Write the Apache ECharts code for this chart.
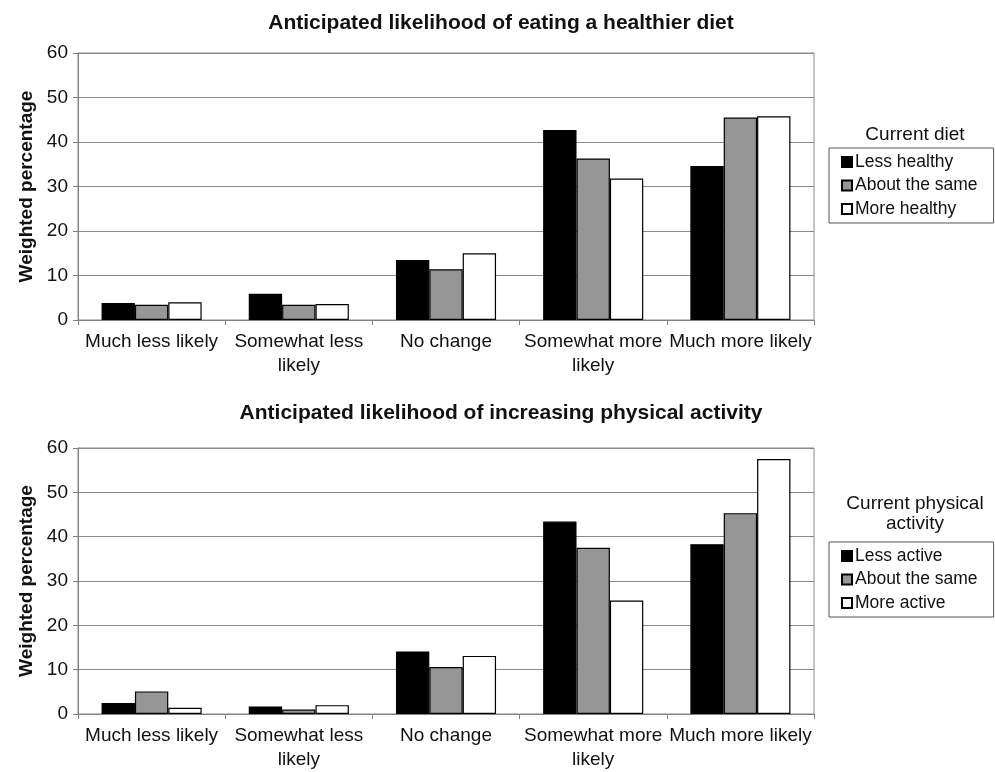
<!DOCTYPE html>
<html>
<head>
<meta charset="utf-8">
<script src="https://cdn.jsdelivr.net/npm/echarts@6/dist/echarts.min.js"></script>
<style>
  html, body { margin: 0; padding: 0; background: #fff; }
  #chart { width: 995px; height: 772px; }
</style>
</head>
<body>
<div id="chart"></div>
<script>
const categories = ['Much less likely', 'Somewhat less\nlikely', 'No change', 'Somewhat more\nlikely', 'Much more likely'];
const yTicks = [0, 10, 20, 30, 40, 50, 60];

// top panel: diet
const dietNames = ['Less healthy', 'About the same', 'More healthy'];
const dietLess = [3.8, 5.9, 13.5, 42.7, 34.6];
const dietSame = [3.4, 3.4, 11.4, 36.3, 45.5];
const dietMore = [4.0, 3.6, 15.0, 31.8, 45.8];

// bottom panel: physical activity
const actNames = ['Less active', 'About the same', 'More active'];
const actLess = [2.5, 1.7, 14.1, 43.4, 38.3];
const actSame = [5.1, 1.0, 10.6, 37.5, 45.3];
const actMore = [1.4, 2.0, 13.1, 25.6, 57.5];

const fills = ['#000000', '#969696', '#ffffff'];
const font = 'Liberation Sans, Arial, sans-serif';

function makeX(gridIndex) {
    return {
        type: 'category', gridIndex: gridIndex, data: categories,
        axisLine: { lineStyle: { color: '#808080', width: 1 } },
        axisTick: { show: true, length: 5, lineStyle: { color: '#808080' } },
        axisLabel: { color: '#111', fontSize: 19, fontFamily: font, lineHeight: 24, margin: 10, interval: 0 }
    };
}

function makeY(gridIndex) {
    return {
        type: 'value', gridIndex: gridIndex,
        min: yTicks[0], max: yTicks[yTicks.length - 1], interval: 10,
        name: 'Weighted percentage', nameLocation: 'middle', nameGap: 42, nameRotate: 90,
        nameTextStyle: { color: '#111', fontSize: 19, fontWeight: 'bold', fontFamily: font },
        axisLine: { show: true, lineStyle: { color: '#808080', width: 1 } },
        axisTick: { show: true, length: 5, lineStyle: { color: '#808080' } },
        axisLabel: { color: '#111', fontSize: 19, fontFamily: font, margin: 10 },
        splitLine: { show: true, lineStyle: { color: '#8a8a8a', width: 1 } }
    };
}

function makeBars(names, arrays, axisIndex) {
    return arrays.map((vals, i) => ({
        name: names[i], type: 'bar', xAxisIndex: axisIndex, yAxisIndex: axisIndex,
        data: vals, barGap: '0%', barCategoryGap: '32%',
        itemStyle: { color: fills[i], borderColor: '#000', borderWidth: 1.2 },
        emphasis: { disabled: true }
    }));
}

function makeLegend(names, top) {
    return {
        data: names, orient: 'vertical', left: 829, top: top,
        icon: 'rect', itemWidth: 10, itemHeight: 10, itemGap: 3.5,
        padding: [4, 16, 4, 12],
        borderColor: '#555', borderWidth: 1,
        selectedMode: false,
        textStyle: { color: '#111', fontSize: 17.5, fontFamily: font, lineHeight: 20, padding: [0, 0, 0, -2] }
    };
}

const chart = echarts.init(document.getElementById('chart'));
const option = {
    backgroundColor: '#fff',
    animation: false,
    title: [
        { text: 'Anticipated likelihood of eating a healthier diet', left: 496, top: 8, textAlign: 'center',
          textStyle: { fontSize: 21, fontWeight: 'bold', color: '#111', fontFamily: font } },
        { text: 'Anticipated likelihood of increasing physical activity', left: 496, top: 398, textAlign: 'center',
          textStyle: { fontSize: 21, fontWeight: 'bold', color: '#111', fontFamily: font } },
        { text: 'Current diet', left: 910, top: 120, textAlign: 'center',
          textStyle: { fontSize: 19, fontWeight: 'normal', color: '#111', fontFamily: font } },
        { text: 'Current physical\nactivity', left: 910, top: 489, textAlign: 'center',
          textStyle: { fontSize: 19, fontWeight: 'normal', color: '#111', fontFamily: font, lineHeight: 20 } }
    ],
    legend: [makeLegend(dietNames, 148), makeLegend(actNames, 542)],
    grid: [
        { left: 78, right: 181, top: 53, height: 267, show: true, borderColor: '#8a8a8a', borderWidth: 1, backgroundColor: 'transparent' },
        { left: 78, right: 181, top: 448, height: 267, show: true, borderColor: '#8a8a8a', borderWidth: 1, backgroundColor: 'transparent' }
    ],
    xAxis: [makeX(0), makeX(1)],
    yAxis: [makeY(0), makeY(1)],
    series: [
        ...makeBars(dietNames, [dietLess, dietSame, dietMore], 0),
        ...makeBars(actNames, [actLess, actSame, actMore], 1)
    ]
};
chart.setOption(option);
</script>
</body>
</html>
